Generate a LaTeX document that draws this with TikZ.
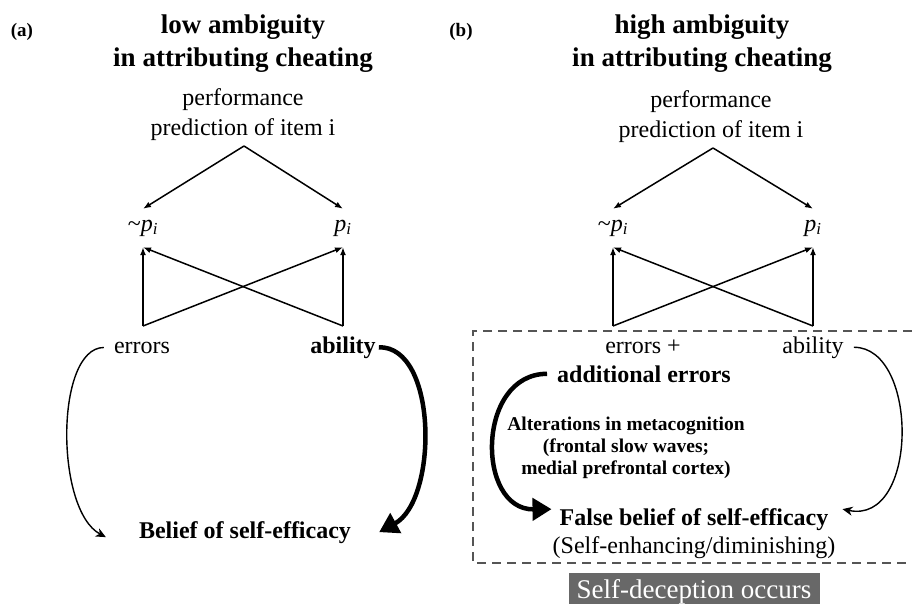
\documentclass[tikz,border=0pt]{standalone}
\usepackage{fontspec}
\setmainfont{Liberation Serif}
\usetikzlibrary{arrows.meta}

\definecolor{boxgray}{RGB}{104,104,104}
\definecolor{dashgray}{RGB}{85,85,85}
\newcommand{\pnot}{\textasciitilde\textit{p}\textsubscript{\textit{i}}}
\newcommand{\pyes}{\textit{p}\textsubscript{\textit{i}}}

\begin{document}
\begin{tikzpicture}[x=1pt, y=-1pt, >=latex,
  txt/.style={font=\fontsize{24}{30}\selectfont, align=center, inner sep=0pt},
  bld/.style={txt, font=\bfseries\fontsize{24}{30}\selectfont},
  ttl/.style={txt, font=\bfseries\fontsize{27}{33}\selectfont},
  tag/.style={txt, font=\bfseries\fontsize{19}{22}\selectfont},
  alt/.style={txt, font=\bfseries\fontsize{19.5}{22}\selectfont},
  pnode/.style={txt, minimum height=38pt},
  pline/.style={line width=1.5pt, -{Latex[length=8pt,width=6pt]}},
  thinarc/.style={line width=1.4pt, -{Stealth[length=10pt,width=9pt,inset=3pt]}},
  thickarc/.style={line width=4.5pt, -{Triangle[length=19pt,width=22pt]}}]

\useasboundingbox (0,0) rectangle (912,604);

%% (a) low ambiguity
\node[tag] (tagA) at (22,32) {(a)};
\node[ttl] (ttlA) at (243,44) {low ambiguity\\in attributing cheating};
\node[txt] (perfA) at (243,115) {performance\\prediction of item i};
\coordinate (apexA) at (244,146);
\node[pnode] (notpA) at (143,228) {\pnot};
\node[pnode] (pA) at (343,228) {\pyes};
\coordinate (baseLA) at (143,326);
\coordinate (baseRA) at (343,326);
\node[txt, anchor=base] (errA) at (142,353) {errors};
\node[bld, anchor=base] (ablA) at (343,353) {ability};
\node[bld, anchor=base] (belA) at (245,538) {Belief of self-efficacy};

\draw[pline] (apexA) -- (notpA.north); %to ~p
\draw[pline] (apexA) -- (pA.north); %to p
\draw[pline] (baseLA) -- (notpA.south);
\draw[pline] (baseLA) -- (pA.south);
\draw[pline] (baseRA) -- (pA.south);
\draw[pline] (baseRA) -- (notpA.south);

\draw[thinarc] ([xshift=-10]errA.west) .. controls (55,348) and (55,510) .. ([xshift=-33,yshift=-5]belA.west); %errors
\draw[thickarc] ([xshift=3]ablA.east) .. controls (438,346) and (438,500) .. ([xshift=28]belA.east); %ability

%% (b) high ambiguity
\node[tag] (tagB) at (461,32) {(b)};
\node[ttl] (ttlB) at (702,44) {high ambiguity\\in attributing cheating};
\node[txt] (perfB) at (711,117) {performance\\prediction of item i};
\coordinate (apexB) at (713,148);
\node[pnode] (notpB) at (613,228) {\pnot};
\node[pnode] (pB) at (813,228) {\pyes};
\coordinate (baseLB) at (613,326);
\coordinate (baseRB) at (813,326);
\node[txt, anchor=base] (errB) at (643,353) {errors +};
\node[txt, anchor=base] (ablB) at (813,353) {ability};
\node[bld, anchor=base] (addB) at (644,382) {additional errors};
\node[alt] (altB) at (626,448) {Alterations in metacognition\\(frontal slow waves;\\medial prefrontal cortex)};
\node[bld, anchor=base] (falseB) at (694,525) {False belief of self-efficacy};
\node[txt, anchor=base] (enhB) at (694,553) {(Self-enhancing/diminishing)};

\draw[pline] (apexB) -- (notpB.north);
\draw[pline] (apexB) -- (pB.north);
\draw[pline] (baseLB) -- (notpB.south);
\draw[pline] (baseLB) -- (pB.south);
\draw[pline] (baseRB) -- (pB.south);
\draw[pline] (baseRB) -- (notpB.south);

\draw[thickarc] ([xshift=-10]addB.west) .. controls (476,374) and (476,510) .. ([xshift=-8,yshift=10]falseB.west); %additional errors
\draw[thinarc] ([xshift=10]ablB.east) .. controls (919,347) and (919,525) .. ([xshift=14,yshift=10]falseB.east); %ability

\draw[dashgray, line width=1.5pt, dash pattern=on 9pt off 6pt] (912,331) -- (473,331) -- (473,563) -- (912,563); %box

\node[txt, fill=boxgray, text=white, font=\fontsize{27}{30}\selectfont, minimum width=251pt, minimum height=38pt] (decB) at (694,592) {Self-deception occurs};

\end{tikzpicture}
\end{document}
